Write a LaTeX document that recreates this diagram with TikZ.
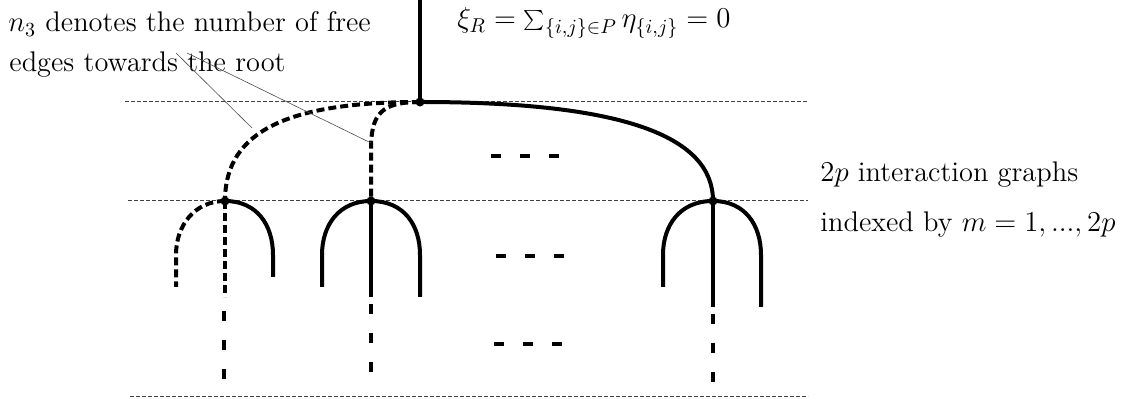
\documentclass[tikz,border=0pt]{standalone}
\usetikzlibrary{calc}
\begin{document}
\begin{tikzpicture}[x=0.5pt,y=-0.5pt,
  thickline/.style={line width=2pt,line cap=butt},
  thickdash/.style={line width=2pt,dash pattern=on 4pt off 2pt},
  sparse/.style={line width=2pt,dash pattern=on 5pt off 9.5pt},
  levelline/.style={line width=0.5pt,black!75,dash pattern=on 2pt off 1pt},
  leader/.style={line width=0.3pt,black!70},
  dot/.style={circle,fill=black,inner sep=0pt,minimum size=4.5pt},
  txt/.style={anchor=base west,inner sep=0pt,font=\fontsize{14.2}{17}\selectfont}]
\useasboundingbox (0,0) rectangle (1125,399);
% level lines
\coordinate (l1a) at (125,102); \coordinate (l1b) at (808,102);
\coordinate (l2a) at (128,201); \coordinate (l2b) at (808,201);
\coordinate (l3a) at (130,397); \coordinate (l3b) at (808,397);
\draw[levelline] (l1a) -- (l1b);
\draw[levelline] (l2a) -- (l2b);
\draw[levelline] (l3a) -- (l3b);
% vertices
\node[dot] (r) at (420,102) {};
\node[dot] (v1) at (225,201) {};
\node[dot] (v2) at (371,201) {};
\node[dot] (v3) at (713,201) {};
\coordinate (rt) at (420,0);
% root edge
\draw[thickline] (rt) -- (r.center);
% edges from root
\draw[thickline] (r.center) .. controls (620,102) and (713,135) .. (v3.center);
\draw[thickdash] (r.center) .. controls (290,102) and (225,130) .. (v1.center);
\draw[thickdash] (r.center) .. controls (380,102) and (371,115) .. (371,150) -- (v2.center);
% subtree 1
\coordinate (a1) at (176,287); \coordinate (b1) at (273,277); \coordinate (c1) at (225,297);
\draw[thickdash] (v1.center) .. controls (195,201) and (176,225) .. (176,255) -- (a1);
\draw[thickline] (v1.center) .. controls (257,201) and (273,225) .. (273,255) -- (b1);
\draw[thickdash] (v1.center) -- (c1);
\coordinate (s1a) at (224,311); \coordinate (s1b) at (224,380);
\draw[sparse] (s1a) -- (s1b);
% subtree 2
\coordinate (a2) at (322,287); \coordinate (b2) at (420,297); \coordinate (c2) at (371,297);
\draw[thickline] (v2.center) .. controls (339,201) and (322,225) .. (322,255) -- (a2);
\draw[thickline] (v2.center) .. controls (404,201) and (420,225) .. (420,255) -- (b2);
\draw[thickline] (v2.center) -- (c2);
\coordinate (s2a) at (371,304); \coordinate (s2b) at (371,373);
\draw[sparse] (s2a) -- (s2b);
% subtree 3
\coordinate (a3) at (663,287); \coordinate (b3) at (761,307); \coordinate (c3) at (713,307);
\draw[thickline] (v3.center) .. controls (680,201) and (663,225) .. (663,255) -- (a3);
\draw[thickline] (v3.center) .. controls (745,201) and (761,225) .. (761,255) -- (b3);
\draw[thickline] (v3.center) -- (c3);
\coordinate (s3a) at (713,314); \coordinate (s3b) at (713,383);
\draw[sparse] (s3a) -- (s3b);
% ellipsis dashes
\coordinate (d1a) at (491,156); \coordinate (d1b) at (560,156);
\coordinate (d2a) at (496,256); \coordinate (d2b) at (565,256);
\coordinate (d3a) at (494,344); \coordinate (d3b) at (563,344);
\draw[sparse] (d1a) -- (d1b);
\draw[sparse] (d2a) -- (d2b);
\draw[sparse] (d3a) -- (d3b);
% texts
\node[txt] (t1) at (8,32) {$n_3$ denotes the number of free};
\node[txt] (t2) at (9,72) {edges towards the root};
\node[txt,font=\fontsize{14.3}{17}\selectfont] (t3) at (457,28) {$\xi_R=\sum_{\{i,j\}\in P}\eta_{\{i,j\}}=0$};
\node[txt] (t4) at (820,182) {$2p$ interaction graphs};
\node[txt] (t5) at (820,232) {indexed by $m=1,...,2p$};
% leader lines
\coordinate (p1) at (176,53); \coordinate (p2) at (187,53);
\coordinate (q1) at (252,128); \coordinate (q2) at (371,143);
\draw[leader] (p1) -- (q1);
\draw[leader] (p2) -- (q2);
\end{tikzpicture}
\end{document}
